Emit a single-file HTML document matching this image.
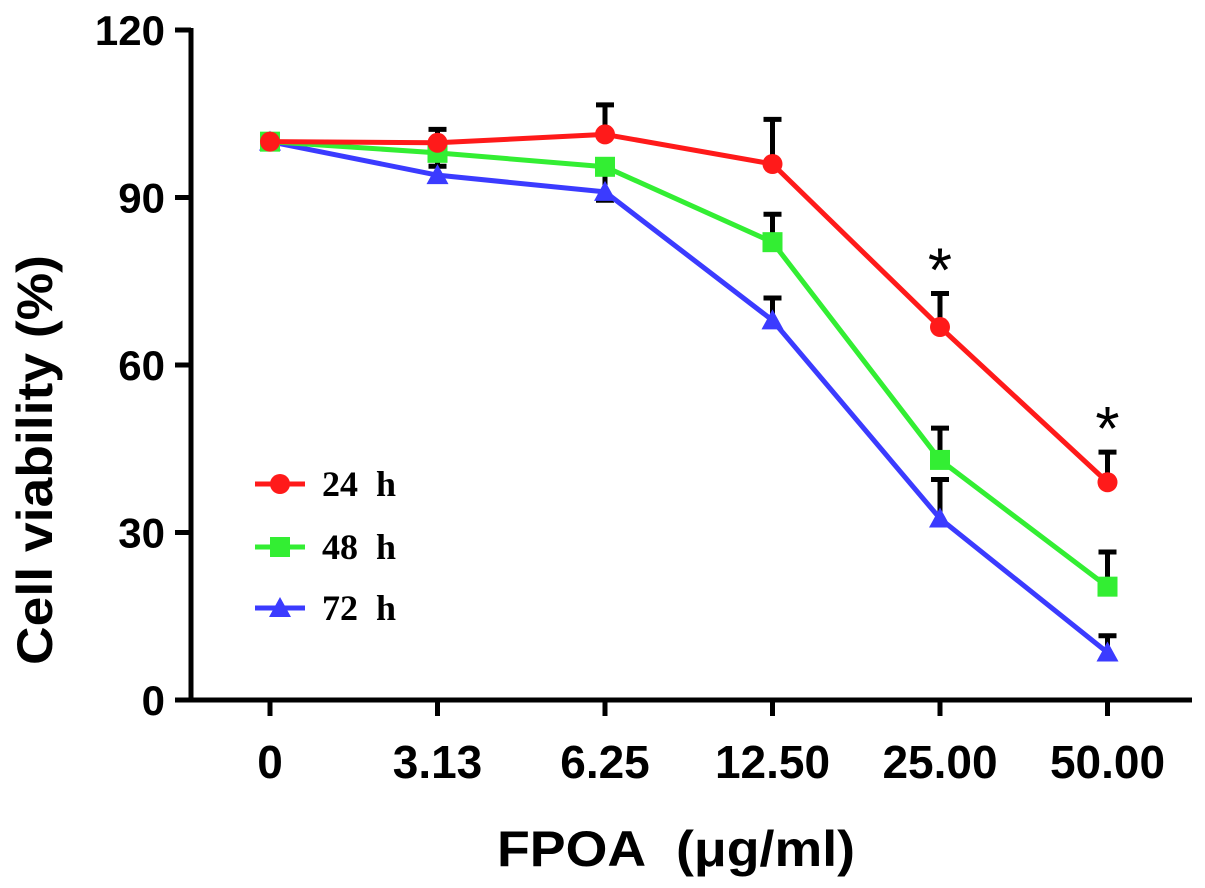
<!DOCTYPE html>
<html><head><meta charset="utf-8"><style>
html,body{margin:0;padding:0;background:#fff;}
svg{display:block;}
</style></head><body>
<svg id="chart" width="1205" height="888" xmlns="http://www.w3.org/2000/svg"></svg>
<script>
const categories = ["0","3.13","6.25","12.50","25.00","50.00"];
const yTicks = [0,30,60,90,120];
const s24 = [100,99.8,101.3,96,66.8,39];
const s48 = [100,98,95.5,82,43,20.3];
const s72 = [100,94,91,68,32.5,8.5];
const e24up = [0,2.4,5.3,8,6,5.4];
const e48up = [0,0,0,5,5.7,6.2];
const e72up = [0,0,0,4,7,3];
const e24dn = [0,2.4,0,0,0,0];
const e48dn = [0,2.4,6,0,0,0];
const e72dn = [0,0,0,0,0,0];
const stars = [4,5];

const NS="http://www.w3.org/2000/svg";
const svg=document.getElementById('chart');
function mk(t,a,p){const e=document.createElementNS(NS,t);for(const k in a)e.setAttribute(k,a[k]);(p||svg).appendChild(e);return e;}
const X0=270,DX=167.5,Y0=700,Y1=30,YMAX=120;
const xs=i=>X0+i*DX;
const ys=v=>Y0-(v/YMAX)*(Y0-Y1);

let g=mk('g',{});

mk('line',{x1:191,y1:Y1-2,x2:191,y2:Y0+2,stroke:'#000','stroke-width':5},g);
yTicks.forEach(v=>{
  const l=mk('line',{x1:175,y1:ys(v),x2:191,y2:ys(v),stroke:'#000','stroke-width':5},g);
  
  const t=mk('text',{x:165,y:ys(v)+15,'text-anchor':'end','font-family':'Liberation Sans, sans-serif','font-weight':'bold','font-size':42},g);
  t.textContent=v;
  
});
let gx=mk('g',{});

mk('line',{x1:189,y1:Y0,x2:1192,y2:Y0,stroke:'#000','stroke-width':5},gx);
categories.forEach((c,i)=>{
  const l=mk('line',{x1:xs(i),y1:Y0,x2:xs(i),y2:716,stroke:'#000','stroke-width':5},gx);
  
  const t=mk('text',{x:xs(i),y:778,'text-anchor':'middle','font-family':'Liberation Sans, sans-serif','font-weight':'bold','font-size':46},gx);
  t.textContent=c;
  
});
let yt=mk('text',{x:0,y:0,transform:'translate(52,460) rotate(-90)','text-anchor':'middle','font-family':'Liberation Sans, sans-serif','font-weight':'bold','font-size':50,textLength:410,lengthAdjust:'spacingAndGlyphs'});
yt.textContent='Cell viability (%)';

let xt=mk('text',{x:676,y:866,'text-anchor':'middle','font-family':'Liberation Sans, sans-serif','font-weight':'bold','font-size':50,textLength:358,lengthAdjust:'spacingAndGlyphs'});
xt.textContent='FPOA\u00a0\u00a0(\u03bcg/ml)';


function errs(vals,up,dn,name){
  const ge=mk('g',{});
  
  vals.forEach((v,i)=>{
    if(up[i]>0){
      mk('line',{x1:xs(i),y1:ys(v),x2:xs(i),y2:ys(v+up[i]),stroke:'#000','stroke-width':5},ge);
      mk('line',{x1:xs(i)-9,y1:ys(v+up[i]),x2:xs(i)+9,y2:ys(v+up[i]),stroke:'#000','stroke-width':5},ge);
    }
    if(dn[i]>0){
      mk('line',{x1:xs(i),y1:ys(v),x2:xs(i),y2:ys(v-dn[i]),stroke:'#000','stroke-width':5},ge);
      mk('line',{x1:xs(i)-9,y1:ys(v-dn[i]),x2:xs(i)+9,y2:ys(v-dn[i]),stroke:'#000','stroke-width':5},ge);
    }
  });
}
errs(s24,e24up,e24dn,'error-bars-24h');
errs(s48,e48up,e48dn,'error-bars-48h');
errs(s72,e72up,e72dn,'error-bars-72h');

function marker(type,x,y,color,p){
  let m;
  if(type==='circle') m=mk('circle',{cx:x,cy:y,r:10,fill:color},p);
  else if(type==='square') m=mk('rect',{x:x-10,y:y-10,width:20,height:20,fill:color},p);
  else m=mk('polygon',{points:`${x},${y-11} ${x+11},${y+9} ${x-11},${y+9}`,fill:color},p);
  
}
function series(vals,color,type,name){
  const gs=mk('g',{});
  
  mk('polyline',{points:vals.map((v,i)=>xs(i)+','+ys(v)).join(' '),fill:'none',stroke:color,'stroke-width':5,'stroke-linejoin':'round'},gs);
  vals.forEach((v,i)=>marker(type,xs(i),ys(v),color,gs));
}
series(s72,'#3b3bff','tri','series-72h');
series(s48,'#33ee33','square','series-48h');
series(s24,'#ff1a1a','circle','series-24h');

stars.forEach(i=>{
  const t=mk('text',{x:xs(i),y:ys(s24[i]+e24up[i])-2,'text-anchor':'middle','font-family':'Liberation Sans, sans-serif','font-size':62});
  t.textContent='*';
  
});

const legend=[['24','#ff1a1a','circle',484],['48','#33ee33','square',547],['72','#3b3bff','tri',608]];
const gl=mk('g',{});

legend.forEach(([lab,c,t,y])=>{
  const ge=mk('g',{},gl);
  
  mk('line',{x1:255,y1:y,x2:305,y2:y,stroke:c,'stroke-width':5},ge);
  marker(t,280,y,c,ge);
  const tx=mk('text',{x:322,y:y+12,'font-family':'Liberation Serif, serif','font-weight':'bold','font-size':36},ge);
  tx.textContent=lab+'\u00a0\u00a0h';
  
});
</script>
</body></html>
